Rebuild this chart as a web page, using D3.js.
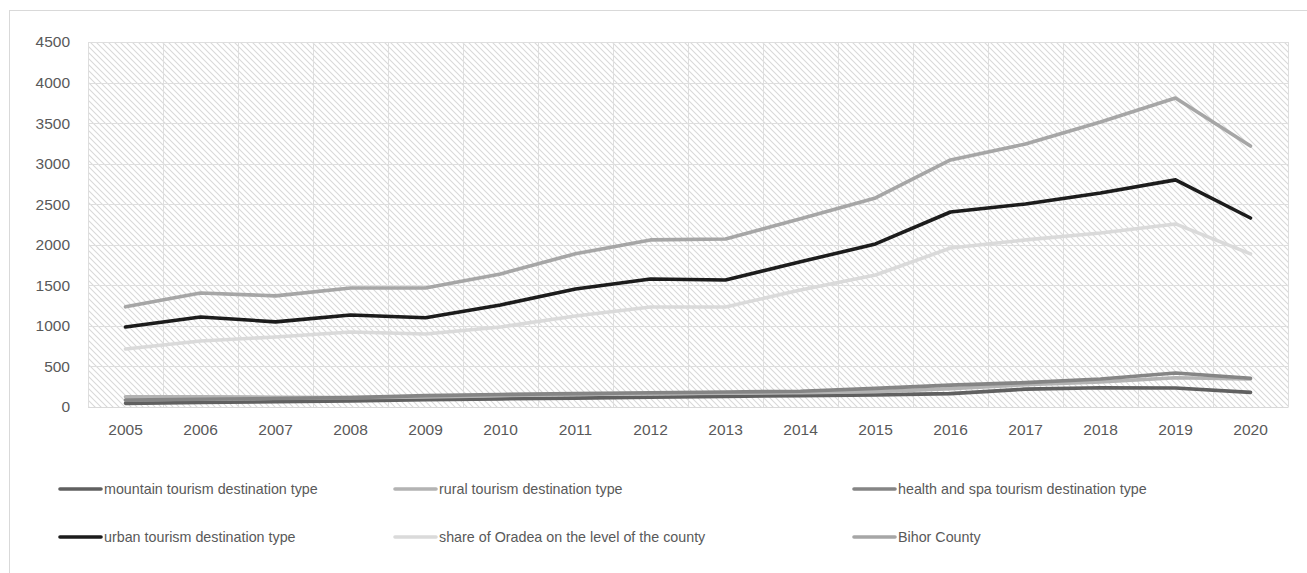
<!DOCTYPE html>
<html><head><meta charset="utf-8">
<script src="https://cdn.jsdelivr.net/npm/d3@7"></script>
<style>
html,body{margin:0;padding:0;background:#fff;}
svg text{font-family:"Liberation Sans",Arial,sans-serif;fill:#595959;}
</style></head>
<body>
<svg id="chart" width="1307" height="573"></svg>
<script>
const years = ["2005","2006","2007","2008","2009","2010","2011","2012","2013","2014","2015","2016","2017","2018","2019","2020"];
const yTicks = [0,500,1000,1500,2000,2500,3000,3500,4000,4500];
const seriesNames = ["mountain tourism destination type","rural tourism destination type","health and spa tourism destination type","urban tourism destination type","share of Oradea on the level of the county","Bihor County"];
const mountain = [45,55,65,75,90,100,110,120,130,140,150,165,220,238,235,180];
const rural = [125,125,120,115,125,140,155,165,170,175,190,225,275,310,360,345];
const healthSpa = [85,95,105,115,140,155,165,175,185,195,230,270,300,345,420,355];
const urban = [986,1110,1050,1135,1100,1258,1455,1578,1566,1790,2010,2404,2503,2639,2800,2330];
const shareOradea = [715,814,863,925,900,986,1122,1233,1233,1443,1628,1960,2060,2146,2257,1887];
const bihor = [1235,1405,1370,1467,1467,1640,1890,2060,2072,2320,2577,3046,3243,3514,3810,3218];
const colors = ["#606060","#b3b3b3","#858585","#1c1c1c","#dadada","#a6a6a6"];

const allSeries = [mountain,rural,healthSpa,urban,shareOradea,bihor];

const svg = d3.select("#chart");
const pLeft = 88, pRight = 1288, pTop = 42, pBottom = 407;

svg.append("rect").attr("x",9.5).attr("y",10.5).attr("width",1310).attr("height",590)
  .attr("fill","#fff").attr("stroke","#d9d9d9").attr("stroke-width",1);

const defs = svg.append("defs");
const pat = defs.append("pattern").attr("id","hatch").attr("patternUnits","userSpaceOnUse")
  .attr("width",6).attr("height",6);
pat.append("path").attr("d","M0,0L6,6M-1,5L1,7M5,-1L7,1")
  .attr("stroke","#d9d9d9").attr("stroke-width",1.1).attr("fill","none");

const x = d3.scaleBand().domain(years).range([pLeft,pRight]);
const y = d3.scaleLinear().domain([0,4500]).range([pBottom,pTop]);

svg.append("rect").attr("x",pLeft).attr("y",pTop).attr("width",pRight-pLeft).attr("height",pBottom-pTop)
  .attr("fill","url(#hatch)");

svg.append("g").selectAll("line").data(yTicks).join("line")
  .attr("x1",pLeft).attr("x2",pRight).attr("y1",d=>Math.round(y(d))+0.5).attr("y2",d=>Math.round(y(d))+0.5)
  .attr("stroke","#dedede").attr("stroke-width",1);
const bounds = years.map(d=>x(d)).concat([pRight]);
svg.append("g").selectAll("line").data(bounds).join("line")
  .attr("x1",d=>Math.round(d)+0.5).attr("x2",d=>Math.round(d)+0.5).attr("y1",pTop).attr("y2",pBottom)
  .attr("stroke","#dedede").attr("stroke-width",1);

const yAxis = d3.axisLeft(y).tickValues(yTicks).tickFormat(d3.format("d")).tickSize(0).tickPadding(18);
const gy = svg.append("g").attr("transform",`translate(${pLeft},0)`).call(yAxis);
gy.select(".domain").remove();
gy.selectAll("text").attr("font-size",15.5).attr("fill","#595959").attr("font-family",null);

const xAxis = d3.axisBottom(x).tickSize(0).tickPadding(17);
const gx = svg.append("g").attr("transform",`translate(0,${pBottom})`).call(xAxis);
gx.select(".domain").attr("stroke","#d9d9d9");
gx.selectAll("text").attr("font-size",15.5).attr("fill","#595959").attr("font-family",null);

const line = d3.line().x((d,i)=>x(years[i])+x.bandwidth()/2).y(d=>y(d));
allSeries.forEach((s,i)=>{
  svg.append("path").datum(s).attr("d",line).attr("fill","none")
    .attr("stroke",colors[i]).attr("stroke-width",3.6).attr("stroke-linejoin","round").attr("stroke-linecap","round");
});

const legX = [58,393,852], legY = [489,537];
seriesNames.forEach((n,i)=>{
  const lx = legX[i%3], ly = legY[Math.floor(i/3)];
  const g = svg.append("g").attr("transform",`translate(${lx},${ly})`);
  g.append("line").attr("x1",2).attr("x2",43).attr("y1",0).attr("y2",0)
    .attr("stroke",colors[i]).attr("stroke-width",3.6).attr("stroke-linecap","round");
  g.append("text").attr("x",46).attr("y",0).attr("dy","0.35em").attr("font-size",14.3).text(n);
});
</script>
</body></html>
